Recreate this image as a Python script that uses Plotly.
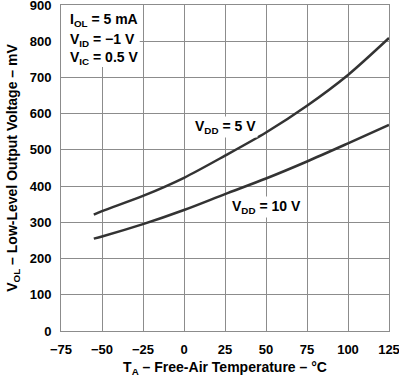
import plotly.graph_objects as go

temps = [-55, -50, -25, 0, 25, 50, 75, 100, 125]
vol_5v = [321, 331, 373, 423, 484, 548, 622, 707, 809]
vol_10v = [255, 261, 295, 334, 378, 421, 468, 518, 569]

x_ticks = [-75, -50, -25, 0, 25, 50, 75, 100, 125]
x_ticklabels = ["\u221275", "\u221250", "\u221225", "0", "25", "50", "75", "100", "125"]
y_ticks = [0, 100, 200, 300, 400, 500, 600, 700, 800, 900]

cond_lines = ["I<sub>OL</sub> = 5 mA", "V<sub>ID</sub> = \u22121 V", "V<sub>IC</sub> = 0.5 V"]
cond_y = [859, 804, 754]

FONT = "Liberation Sans"
line_color = "#333333"
grid_color = "#8c8c8c"

fig = go.Figure()
for ys in (vol_5v, vol_10v):
    fig.add_trace(go.Scatter(x=temps, y=ys, mode="lines",
                             line=dict(color=line_color, width=2.5, shape="spline", smoothing=0.8),
                             showlegend=False, hoverinfo="skip"))

tickfont = dict(family=FONT, size=13, color="black", weight="bold")
fig.update_layout(
    width=399, height=378,
    margin=dict(l=61, r=10, t=5, b=47),
    plot_bgcolor="white", paper_bgcolor="white",
    font=dict(family=FONT, size=13, color="black"),
    xaxis=dict(range=[-75, 125], tickvals=x_ticks, ticktext=x_ticklabels, automargin=False,
               showgrid=True, gridcolor=grid_color, gridwidth=1,
               showline=True, linecolor=grid_color, mirror=True, zeroline=False,
               ticks="", ticklabelstandoff=6, tickfont=tickfont, ticklabeloverflow="allow",
               title=dict(text="<b>T<sub>A</sub> \u2013 Free-Air Temperature \u2013 \u00b0C</b>",
                          font=dict(family=FONT, size=14), standoff=6)),
    yaxis=dict(range=[0, 900], tickvals=y_ticks, automargin=False,
               showgrid=True, gridcolor=grid_color, gridwidth=1,
               showline=True, linecolor=grid_color, mirror=True, zeroline=False,
               ticks="", ticklabelstandoff=6, tickfont=tickfont, ticklabeloverflow="allow",
               title=dict(text="<b>V<sub>OL</sub> \u2013 Low-Level Output Voltage \u2013 mV</b>",
                          font=dict(family=FONT, size=14), standoff=8)),
)

fig.add_shape(type="rect", xref="x", yref="y", x0=-75, x1=-27, y0=729, y1=900,
              fillcolor="white", line=dict(width=0), layer="between")

for txt, yy in zip(cond_lines, cond_y):
    fig.add_annotation(x=-70.7, y=yy, xref="x", yref="y", xanchor="left", yanchor="middle",
                       text="<b>" + txt + "</b>", showarrow=False,
                       font=dict(family=FONT, size=14, color="black"))

fig.add_annotation(x=5.5, y=563, xref="x", yref="y", xanchor="left", yanchor="middle",
                   text="<b>V<sub>DD</sub> = 5 V</b>", showarrow=False, bgcolor="white",
                   font=dict(family=FONT, size=14, color="black"), borderpad=1)
fig.add_annotation(x=28, y=342, xref="x", yref="y", xanchor="left", yanchor="middle",
                   text="<b>V<sub>DD</sub> = 10 V</b>", showarrow=False, bgcolor="white",
                   font=dict(family=FONT, size=14, color="black"), borderpad=1)

fig.write_html("out.html", config={"displayModeBar": False, "responsive": False},
               post_script="document.body.style.margin='0px';document.body.style.overflow='hidden';")
